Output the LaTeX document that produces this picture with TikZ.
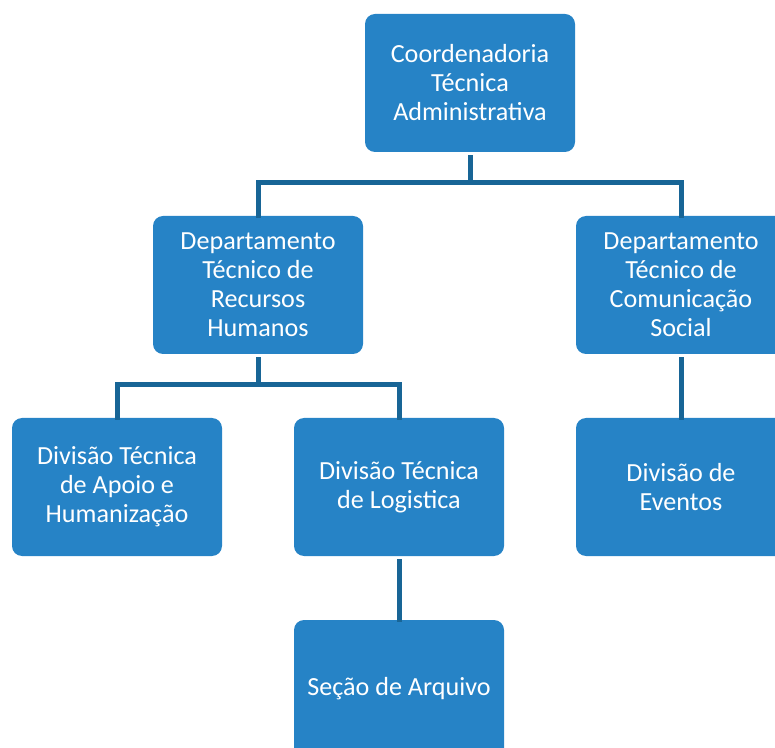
\documentclass[tikz,border=0pt]{standalone}
\usepackage{fontspec}
\setmainfont{Carlito}
\usepackage{tikz}
\usetikzlibrary{positioning, calc}
\definecolor{boxblue}{RGB}{38,131,198}
\definecolor{lineblue}{RGB}{24,101,150}
\tikzstyle{unit} = [rectangle, rounded corners=7.5pt, fill=boxblue, text=white,
                    minimum width=157.5pt, minimum height=103.5pt, inner sep=0pt,
                    outer sep=2.5pt, align=center, font=\fontsize{19.6}{21.75}\selectfont]
\tikzstyle{link} = [draw=lineblue, line width=3.75pt, line join=miter]

\begin{document}
\begin{tikzpicture}[x=0.75pt, y=-0.75pt]
  \useasboundingbox (0,0) rectangle (775,748);

  % level 1
  \node[unit] (cta) at (470,83) {Coordenadoria\\Técnica\\Administrativa};

  % level 2
  \node[unit] (rh) at (258,285) {Departamento\\Técnico de\\Recursos\\Humanos};
  \node[unit] (cs) at (681,285) {Departamento\\Técnico de\\Comunicação\\Social};

  % level 3
  \node[unit] (apoio) at (117,487) {Divisão Técnica\\de Apoio e\\Humanização};
  \node[unit] (logist) at (399,487) {Divisão Técnica\\de Logistica};
  \node[unit] (eventos) at (681,487) {Divisão de\\Eventos};

  % level 4
  \node[unit] (arquivo) at (399,689) {Seção de Arquivo};

  % connectors
  \coordinate (j1) at (470,183);
  \coordinate (j2) at (258,385);
  \draw[link] (cta) -- (j1);
  \draw[link] ([yshift=-4pt]rh.north) |- (j1) -| ([yshift=-4pt]cs.north);
  \draw[link] (rh) -- (j2);
  \draw[link] ([yshift=-4pt]apoio.north) |- (j2) -| ([yshift=-4pt]logist.north);
  \draw[link] (cs) -- ([yshift=-4pt]eventos.north);
  \draw[link] (logist) -- ([yshift=-4pt]arquivo.north);
\end{tikzpicture}
\end{document}
